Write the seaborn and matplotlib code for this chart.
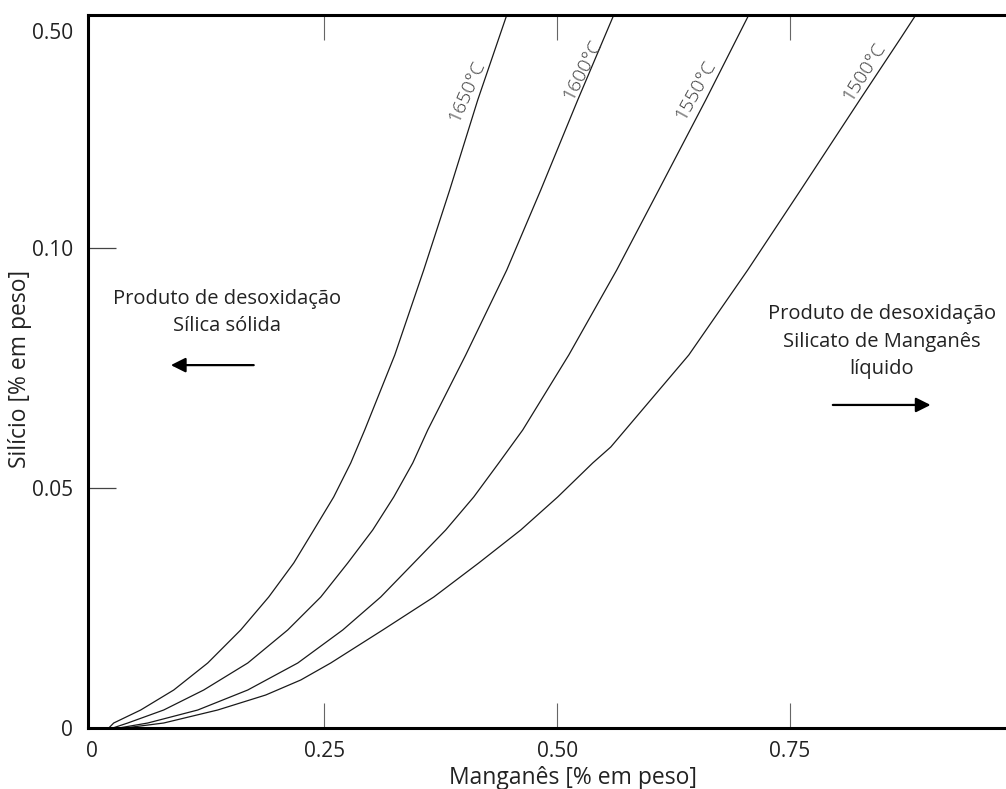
import numpy as np
import pandas as pd
import matplotlib
matplotlib.use("Agg")
import matplotlib.pyplot as plt
import matplotlib.transforms as mtransforms
import seaborn as sns

# Equilibrium curves: Si (wt %) vs Mn (wt %) for each steel temperature
temps = ["1650°C", "1600°C", "1550°C", "1500°C"]

si_levels = [0.5, 0.3541, 0.1996, 0.09542, 0.07771, 0.06208, 0.05521, 0.04813,
             0.04125, 0.03438, 0.02729, 0.02042, 0.01354, 0.007917, 0.00375,
             0.00104, 0.0]

mn_1650 = [0.4458, 0.4146, 0.3845, 0.3566, 0.3255, 0.2932, 0.2782, 0.2599,
           0.2385, 0.2170, 0.1901, 0.1600, 0.1246, 0.0881, 0.0526, 0.0236, 0.0183]
si_1650 = si_levels

mn_1600 = [0.5607, 0.5220, 0.4823, 0.4458, 0.4017, 0.3609, 0.3448, 0.3244,
           0.3018, 0.2750, 0.2460, 0.2105, 0.1676, 0.1203, 0.0773, 0.0387, 0.0226]
si_1600 = si_levels

mn_1550 = [0.7057, 0.6595, 0.6090, 0.5639, 0.5124, 0.4629, 0.4372, 0.4103,
           0.3802, 0.3459, 0.3104, 0.2696, 0.2213, 0.1676, 0.1139, 0.0602, 0.0290]
si_1550 = si_levels

mn_1500 = [0.8851, 0.8690, 0.8249, 0.7615, 0.7046, 0.6413, 0.5575, 0.5381,
           0.5005, 0.4608, 0.4157, 0.3674, 0.3126, 0.2567, 0.2245, 0.1869,
           0.1353, 0.0773, 0.0354]
si_1500 = [0.5, 0.4605, 0.3541, 0.1996, 0.09542, 0.07771, 0.05854, 0.05521,
           0.04813, 0.04125, 0.03438, 0.02729, 0.02042, 0.01354, 0.0100,
           0.006875, 0.00375, 0.00104, 0.0]

x_ticks = [0, 0.25, 0.50, 0.75]
x_tick_labels = ["0", "0.25", "0.50", "0.75"]
y_ticks = [0, 0.05, 0.10, 0.50]
y_tick_labels = ["0", "0.05", "0.10", "0.50"]

# curve label positions (Mn, Si) and their rotation along the curve
label_mn = [0.4028, 0.5274, 0.6488, 0.8292]
label_si = [0.3695, 0.4056, 0.3712, 0.4021]
label_rot = [66, 63, 61, 58]

frames = []
for t, mn, si in zip(temps, [mn_1650, mn_1600, mn_1550, mn_1500],
                     [si_1650, si_1600, si_1550, si_1500]):
    frames.append(pd.DataFrame({"Mn": mn, "Si": si, "T": t}))
df = pd.concat(frames, ignore_index=True)

sns.set_theme(style="white")
plt.rcParams["font.family"] = ["Open Sans", "DejaVu Sans"]

fig = plt.figure(figsize=(10.06, 7.89), dpi=100)
W, H = 1006, 789
ax = fig.add_axes([88 / W, 1 - 728 / H, 1 - 88 / W, (728 - 15) / H])

# Silicon axis: linear up to 0.10, compressed above it
K = 0.12135


def fwd(y):
    y = np.asarray(y, dtype=float)
    return np.where(y <= 0.1, y, 0.1 + (y - 0.1) * K)


def inv(v):
    v = np.asarray(v, dtype=float)
    return np.where(v <= 0.1, v, 0.1 + (v - 0.1) / K)


ax.set_yscale("function", functions=(fwd, inv))

sns.lineplot(data=df, x="Mn", y="Si", hue="T", units="T", estimator=None,
             sort=False, palette=["#1a1a1a"] * 4, linewidth=0.9,
             legend=False, ax=ax)

ax.set_xlim(-0.004, 0.982)
ax.set_ylim(0, 0.5)

# tick labels (no marks) ...
ax.set_xticks(x_ticks)
ax.set_xticklabels(x_tick_labels)
ax.set_yticks(y_ticks)
ax.set_yticklabels(y_tick_labels)
ax.tick_params(axis="both", which="major", labelsize=15, labelcolor="#222222",
               length=0)
ax.tick_params(axis="x", which="major", pad=9.5)
ax.tick_params(axis="y", which="major", pad=11)

# ... and short inward marks at the interior graduations
ax.xaxis.remove_overlapping_locs = False
ax.yaxis.remove_overlapping_locs = False
ax.set_xticks(x_ticks[1:], minor=True)
ax.set_yticks(y_ticks[1:3], minor=True)
ax.tick_params(axis="x", which="minor", direction="in", length=18, width=0.8,
               bottom=True, top=True, color="#666666")
ax.tick_params(axis="y", which="minor", direction="in", length=20, width=0.9,
               left=True, color="#444444")

# nudge top label slightly below the frame edge
lab = ax.get_yticklabels()[-1]
lab.set_transform(lab.get_transform() +
                  mtransforms.ScaledTranslation(0, -16 / 100, fig.dpi_scale_trans))

for side in ["left", "top", "bottom"]:
    ax.spines[side].set_visible(True)
    ax.spines[side].set_color("black")
    ax.spines[side].set_linewidth(2.2)
ax.spines["right"].set_visible(False)

ax.set_xlabel("Manganês [% em peso]", fontsize=16.5, color="#222222")
ax.set_ylabel("Silício [% em peso]", fontsize=16.5, color="#222222")
ax.xaxis.set_label_coords(0.528, -0.0695)
ax.xaxis.label.set_verticalalignment("center")
ax.yaxis.set_label_coords(-0.074, 0.5035)
ax.yaxis.label.set_verticalalignment("center")

# temperature labels written along each curve
for t, xm, ys, r in zip(temps, label_mn, label_si, label_rot):
    ax.text(xm, ys, t, rotation=r, ha="center", va="center", fontsize=14,
            color="#3a3a3a", fontweight="light")

# deoxidation product regions
ax.text(0.145, 0.0866, "Produto de desoxidação\nSílica sólida", ha="center",
        va="center", fontsize=14.5, linespacing=1.5, color="#222222")
ax.text(0.8486, 0.0805, "Produto de desoxidação\nSilicato de Manganês\nlíquido",
        ha="center", va="center", fontsize=14.5, linespacing=1.5, color="#222222")

ax.annotate("", xy=(0.085, 0.0756), xytext=(0.174, 0.0756),
            arrowprops=dict(arrowstyle="-|>", color="black", lw=1.6,
                            mutation_scale=22, shrinkA=0, shrinkB=0))
ax.annotate("", xy=(0.901, 0.0673), xytext=(0.796, 0.0673),
            arrowprops=dict(arrowstyle="-|>", color="black", lw=1.6,
                            mutation_scale=22, shrinkA=0, shrinkB=0))

fig.savefig("out.png", dpi=100, facecolor="white")
